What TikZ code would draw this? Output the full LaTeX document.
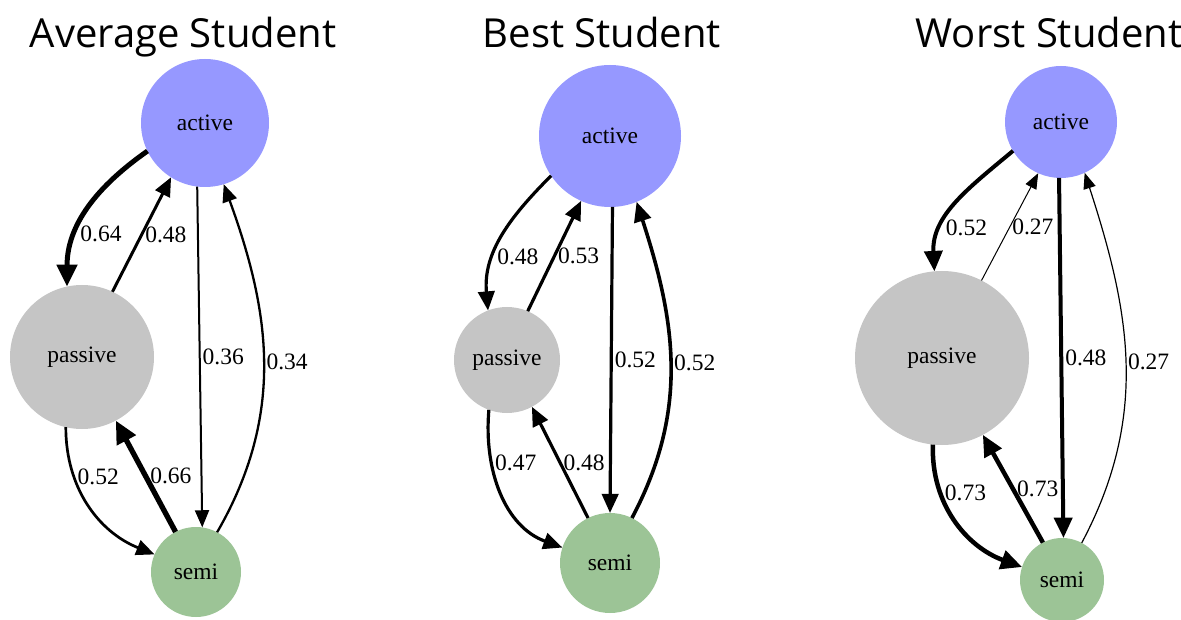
\documentclass[tikz,border=0pt]{standalone}
\usepackage{fontspec}
\setmainfont{Liberation Serif}
\newfontfamily\titlefont{Open Sans}
\usepackage{tikz}
\usetikzlibrary{arrows.meta}
\definecolor{actblue}{RGB}{150,152,255}
\definecolor{pasgray}{RGB}{197,197,197}
\definecolor{semgreen}{RGB}{156,196,150}

\begin{document}
\begin{tikzpicture}[x=1pt, y=1pt, font=\fontsize{23.5}{28}\selectfont]
    \tikzset{
      act/.style={circle, fill=actblue, minimum size=#1, inner sep=0pt, outer sep=0pt},
      pas/.style={circle, fill=pasgray, minimum size=#1, inner sep=0pt, outer sep=0pt},
      sem/.style={circle, fill=semgreen, minimum size=#1, inner sep=0pt, outer sep=0pt},
      line/.style={draw, line width=#1, -{Triangle[length=14pt 1.6, width=10pt 2]}},
      lbl/.style={anchor=west, inner sep=2pt},
      ttl/.style={anchor=base, font=\titlefont\fontsize{40}{46}\selectfont}
    }
    \useasboundingbox (0,0) rectangle (1181,-620);

    % average student
    \node [ttl] (t1) at (183,-48) {Average Student};
    \node [act=128pt] (a1) at (205,-123) {active};
    \node [pas=144pt] (p1) at (82,-357) {passive};
    \node [sem=90pt] (s1) at (196,-572) {semi};

    \path [line=5pt] (a1.206) to[out=215, in=90] node[lbl, pos=0.68] {0.64} (p1.102);
    \path [line=3pt] (p1.65) -- node[lbl] {0.48} (a1.238);
    \path [line=2pt] (a1.263) -- node[lbl] {0.36} (s1.82);
    \path [line=2.3pt] (s1.62) to[out=60, in=-70] node[lbl] {0.34} (a1.287);
    \path [line=2.7pt] (p1.257) to[out=-90, in=158] node[lbl, pos=0.3] {0.52} (s1.157);
    \path [line=5.3pt] (s1.117) -- node[lbl] {0.66} (p1.298);

    % best student
    \node [ttl] (t2) at (602,-48) {Best Student};
    \node [act=142pt] (a2) at (610,-136) {active};
    \node [pas=106pt] (p2) at (507,-360) {passive};
    \node [sem=100pt] (s2) at (610,-563) {semi};

    \path [line=3.2pt] (a2.214) to[out=225, in=95] node[lbl, pos=0.65] {0.48} (p2.111);
    \path [line=3.2pt] (p2.67) -- node[lbl] {0.53} (a2.246);
    \path [line=3.2pt] (a2.-88) -- node[lbl] {0.52} (s2.90);
    \path [line=3.6pt] (s2.64) to[out=62, in=-72] node[lbl] {0.52} (a2.-68);
    \path [line=3.2pt] (p2.250) to[out=-95, in=160] node[lbl, pos=0.3] {0.47} (s2.162);
    \path [line=3.2pt] (s2.116) -- node[lbl] {0.48} (p2.-62);

    % worst student
    \node [ttl] (t3) at (1049,-48) {Worst Student};
    \node [act=112pt] (a3) at (1061,-122) {active};
    \node [pas=174pt] (p3) at (942,-358) {passive};
    \node [sem=84pt] (s3) at (1062,-580) {semi};

    \path [line=4pt] (a3.211) to[out=220, in=93] node[lbl, pos=0.7] {0.52} (p3.95);
    \path [line=1pt] (p3.63) -- node[lbl] {0.27} (a3.246);
    \path [line=4pt] (a3.268) -- node[lbl] {0.48} (s3.88);
    \path [line=1.2pt] (s3.62) to[out=62, in=-72] node[lbl] {0.27} (a3.-65);
    \path [line=4.5pt] (p3.264) to[out=-92, in=160] node[lbl, pos=0.3] {0.73} (s3.162);
    \path [line=4.5pt] (s3.117) -- node[lbl] {0.73} (p3.-62);
\end{tikzpicture}
\end{document}
